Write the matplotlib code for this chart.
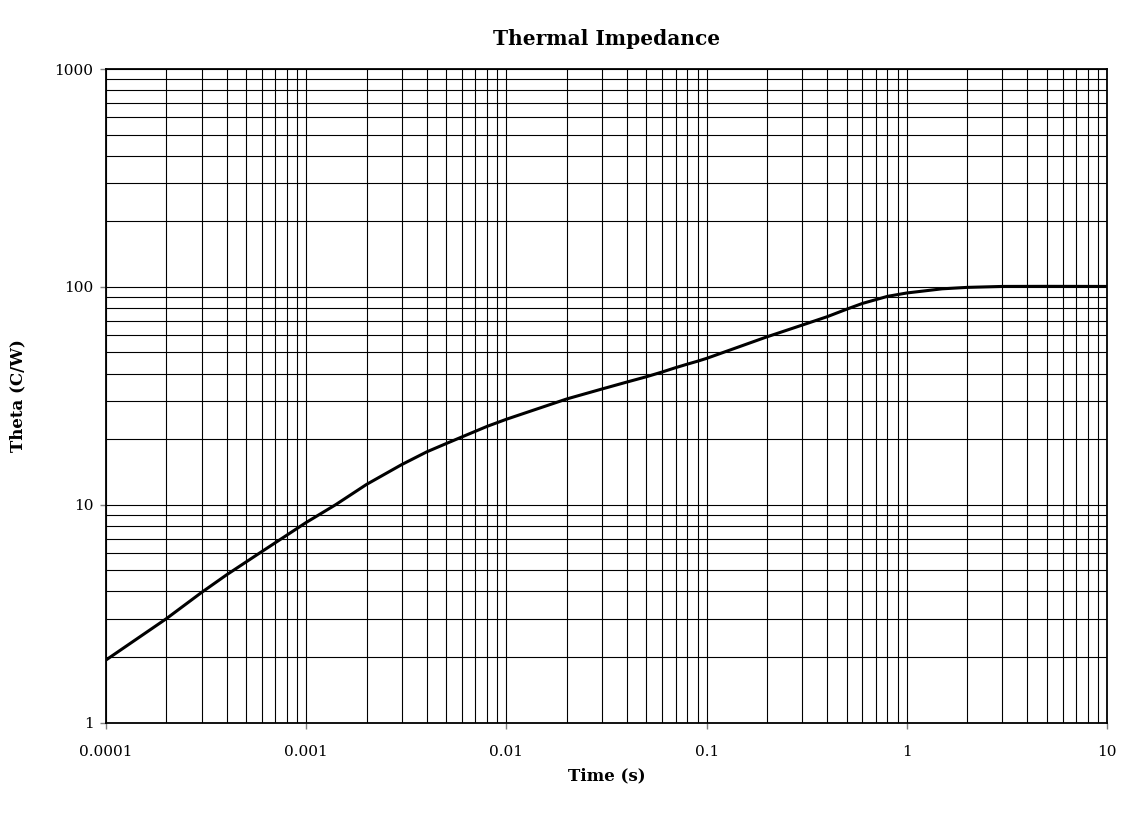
import numpy as np
import matplotlib
matplotlib.use("Agg")
import matplotlib.pyplot as plt

# Значения
time_s = [1e-4, 2e-4, 3e-4, 4e-4, 6e-4, 1e-3, 1.4e-3, 2e-3, 3e-3, 4e-3,
          5e-3, 6e-3, 8e-3, 1e-2, 2e-2, 3e-2, 4e-2, 5e-2, 6e-2, 7e-2,
          8e-2, 9e-2, 0.1, 0.2, 0.3, 0.4, 0.5, 0.6, 0.8, 1.0,
          1.5, 2.0, 3.0, 5.0, 10.0]
theta = [1.94, 3.0, 3.96, 4.77, 6.1, 8.3, 10.0, 12.4, 15.3, 17.5,
         19.1, 20.5, 22.9, 24.7, 30.6, 34.0, 36.6, 38.7, 40.7, 42.6,
         44.2, 45.6, 47.0, 59.0, 66.8, 73.0, 79.0, 84.0, 90.5, 93.8,
         98.0, 99.5, 100.5, 100.6, 100.5]

x_ticks = [1e-4, 1e-3, 1e-2, 0.1, 1, 10]
x_labels = ['0.0001', '0.001', '0.01', '0.1', '1', '10']
y_ticks = [1, 10, 100, 1000]
y_labels = ['1', '10', '100', '1000']

plt.rcParams['font.family'] = ['DejaVu Serif']

fig = plt.figure(figsize=(11.21, 8.14), dpi=100)
ax = fig.add_axes([0.0946, 0.1122, 0.893, 0.803])

ax.set_xscale('log')
ax.set_yscale('log')
ax.set_xlim(1e-4, 10)
ax.set_ylim(1, 1000)

ax.grid(True, which='both', color='black', linewidth=0.8)
ax.set_axisbelow(True)

ax.plot(time_s, theta, color='black', linewidth=2.2, solid_joinstyle='round')

ax.set_xticks(x_ticks)
ax.set_xticklabels(x_labels)
ax.set_yticks(y_ticks)
ax.set_yticklabels(y_labels)
ax.tick_params(which='major', direction='out', length=4, width=1,
               labelsize=11, color='gray')
ax.tick_params(axis='x', pad=12)
ax.tick_params(axis='y', pad=5)
ax.tick_params(which='minor', length=0)

for s in ax.spines.values():
    s.set_linewidth(1.3)
    s.set_color('black')

ax.set_title('Thermal Impedance', fontsize=14.5, fontweight='bold', pad=17)
ax.set_xlabel('Time (s)', fontsize=12, fontweight='bold', labelpad=6)
ax.set_ylabel('Theta (C/W)', fontsize=12, fontweight='bold', labelpad=20)

fig.savefig('out.png', dpi=100)
